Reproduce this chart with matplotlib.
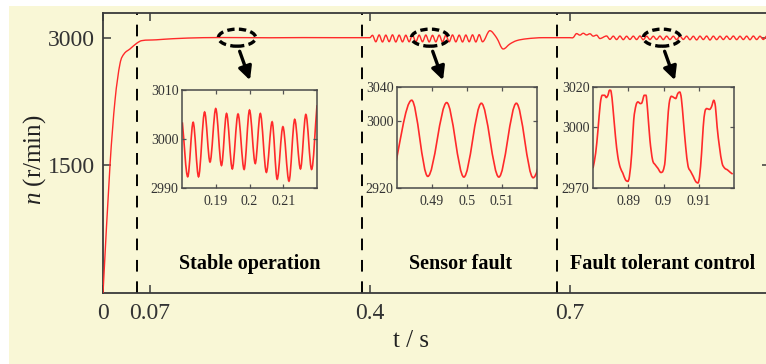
import numpy as np
import matplotlib
matplotlib.use('Agg')
import matplotlib.pyplot as plt
from matplotlib.path import Path
from matplotlib.patches import PathPatch, Ellipse, Rectangle

plt.rcParams['font.family'] = ['Liberation Serif', 'DejaVu Serif']
plt.rcParams['mathtext.fontset'] = 'custom'
plt.rcParams['mathtext.rm'] = 'Liberation Serif'
plt.rcParams['mathtext.it'] = 'Liberation Serif:italic'

# ---- data ----
# start-up and stable run
start_t = [0.0, 0.0105, 0.018, 0.0255, 0.0315, 0.0405, 0.0505, 0.058, 0.08, 0.105, 0.15]
start_v = [0, 1500, 2262, 2695, 2809, 2868, 2934, 2965, 2975, 2988, 3000]
stable_t = [0.2, 0.25, 0.3, 0.35, 0.4]
stable_v = [3001, 2999, 3001, 3000, 3000]

# sensor fault ripple (peaks / troughs)
fault_peak_t = [0.404, 0.414, 0.424, 0.434, 0.444, 0.454, 0.464, 0.474, 0.484,
                0.494, 0.504, 0.514, 0.524, 0.534, 0.544, 0.554, 0.564]
fault_peak_v = [3028, 3032, 3030, 3033, 3030, 3029, 3032, 3030, 3031,
                3028, 3030, 3029, 3032, 3030, 3031, 3033, 3035]
fault_trough_t = [0.409, 0.419, 0.429, 0.439, 0.449, 0.459, 0.469, 0.479, 0.489,
                  0.499, 0.509, 0.519, 0.529, 0.539, 0.549, 0.559, 0.569]
fault_trough_v = [2952, 2950, 2953, 2950, 2951, 2952, 2950, 2952, 2950,
                  2951, 2950, 2952, 2951, 2950, 2952, 2950, 2952]
# disturbance after the fault and recovery
bump_t = [0.580, 0.590, 0.600, 0.610, 0.620, 0.635, 0.660, 0.700, 0.705]
bump_v = [3082, 3000, 2867, 2926, 2965, 2987, 3000, 3000, 3002]

# fault tolerant control
ftc_start_t = [0.71, 0.715, 0.72, 0.725, 0.73, 0.735, 0.74, 0.745]
ftc_start_v = [3048, 3030, 3052, 3032, 3046, 3018, 3030, 2990]
ftc_peak_t = [0.755, 0.765, 0.775, 0.785, 0.795, 0.805, 0.815, 0.825, 0.835,
              0.845, 0.855, 0.865, 0.875, 0.885, 0.895, 0.905, 0.915, 0.925,
              0.935, 0.945, 0.955, 0.965, 0.975, 0.985, 0.995]
ftc_peak_v = [3020, 3018, 3019, 3017, 3018, 3020, 3018, 3017, 3019,
              3018, 3017, 3019, 3018, 3017, 3018, 3019, 3018, 3017,
              3018, 3019, 3017, 3018, 3019, 3017, 3018]
ftc_trough_t = [0.760, 0.770, 0.780, 0.790, 0.800, 0.810, 0.820, 0.830, 0.840,
                0.850, 0.860, 0.870, 0.880, 0.890, 0.900, 0.910, 0.920, 0.930,
                0.940, 0.950, 0.960, 0.970, 0.980, 0.990, 1.000]
ftc_trough_v = [2980, 2978, 2977, 2979, 2978, 2976, 2978, 2979, 2977,
                2978, 2977, 2979, 2976, 2974, 2978, 2973, 2977, 2978,
                2979, 2977, 2978, 2976, 2978, 2979, 2977]

# zoomed views
in1_t = [0.1801, 0.1817, 0.1833, 0.1849, 0.1867, 0.1883, 0.1900, 0.1917, 0.1932,
         0.1949, 0.1966, 0.1984, 0.2000, 0.2017, 0.2032, 0.2050, 0.2067, 0.2082,
         0.2099, 0.2117, 0.2134, 0.2151, 0.2167, 0.2184, 0.2200]
in1_v = [3003.4, 2992.3, 3003.4, 2992.3, 3005.5, 2995.3, 3006.2, 2994.6, 3005.2,
         2993.9, 3005.1, 2993.8, 3005.9, 2995.0, 3005.2, 2993.2, 3003.5, 2991.8,
         3002.5, 2991.4, 3004.0, 2993.9, 3005.0, 2993.8, 3006.9]
in2_t = [0.4788, 0.4842, 0.4888, 0.4942, 0.4991, 0.5041, 0.5091, 0.5141, 0.5189, 0.5239]
in2_v = [2933.0, 3024.3, 2933.8, 3021.5, 2933.0, 3020.7, 2933.0, 3020.7, 2932.2, 3021.0]
in3_t = [0.88000, 0.88075, 0.88141, 0.88207, 0.88263, 0.88329, 0.88376, 0.88423,
         0.88469, 0.88516, 0.88563, 0.88638, 0.88704, 0.88770, 0.88845, 0.88920,
         0.88986, 0.89033, 0.89099, 0.89155, 0.89221, 0.89277, 0.89343, 0.89390,
         0.89455, 0.89502, 0.89549, 0.89615, 0.89690, 0.89765, 0.89840, 0.89925,
         0.89991, 0.90047, 0.90113, 0.90160, 0.90225, 0.90291, 0.90347, 0.90404,
         0.90460, 0.90507, 0.90563, 0.90629, 0.90695, 0.90770, 0.90845, 0.90911,
         0.90977, 0.91023, 0.91080, 0.91127, 0.91174, 0.91230, 0.91305, 0.91362,
         0.91427, 0.91474, 0.91521, 0.91587, 0.91662, 0.91737, 0.91812, 0.91897,
         0.91962]
in3_v = [2979.8, 2987.2, 2998.7, 3011.8, 3015.9, 3015.9, 3014.8, 3015.9,
         3018.4, 3017.5, 3010.2, 2995.4, 2985.6, 2980.3, 2977.4, 2974.1,
         2973.3, 2975.7, 2987.2, 3003.6, 3011.0, 3012.6, 3011.8, 3012.3,
         3015.9, 3015.9, 3008.5, 2993.8, 2983.9, 2981.5, 2979.8, 2977.7,
         2978.7, 2983.9, 3002.0, 3011.8, 3015.4, 3014.8, 3014.3, 3016.7,
         3017.5, 3014.3, 3003.6, 2990.5, 2981.0, 2978.2, 2975.7, 2973.3,
         2972.5, 2975.7, 2987.2, 3000.3, 3007.7, 3009.3, 3008.9, 3010.2,
         3013.4, 3010.2, 3000.3, 2990.5, 2982.3, 2979.8, 2979.0, 2977.7,
         2976.9]

phase_lines = [0.051, 0.388, 0.68]
phase_names = ['Stable operation', 'Sensor fault', 'Fault tolerant control']
zoom_centres = [0.2009, 0.4903, 0.838]

bg = '#f9f7d6'
red = '#ff2a2a'
dark = '#3a3a3a'


def smooth_path(t, v):
    # cubic Hermite through the read points, flat at local extrema
    t = np.asarray(t, float)
    v = np.asarray(v, float)
    n = len(t)
    m = np.zeros(n)
    for i in range(n):
        if i == 0:
            m[i] = (v[1] - v[0]) / (t[1] - t[0])
        elif i == n - 1:
            m[i] = (v[-1] - v[-2]) / (t[-1] - t[-2])
        elif (v[i] - v[i - 1]) * (v[i + 1] - v[i]) <= 0:
            m[i] = 0.0
        else:
            m[i] = (v[i + 1] - v[i - 1]) / (t[i + 1] - t[i - 1])
    verts = [(t[0], v[0])]
    codes = [Path.MOVETO]
    for i in range(n - 1):
        h = (t[i + 1] - t[i]) / 3
        verts += [(t[i] + h, v[i] + m[i] * h), (t[i + 1] - h, v[i + 1] - m[i + 1] * h),
                  (t[i + 1], v[i + 1])]
        codes += [Path.CURVE4] * 3
    return Path(verts, codes)


main_t = start_t + stable_t
main_v = start_v + stable_v
pairs = sorted(zip(fault_peak_t + fault_trough_t, fault_peak_v + fault_trough_v))
main_t += [p[0] for p in pairs] + bump_t + ftc_start_t
main_v += [p[1] for p in pairs] + bump_v + ftc_start_v
pairs = sorted(zip(ftc_peak_t + ftc_trough_t, ftc_peak_v + ftc_trough_v))
main_t += [p[0] for p in pairs]
main_v += [p[1] for p in pairs]

W, H = 766, 364
fig = plt.figure(figsize=(W / 100, H / 100), dpi=100, facecolor='white')
fig.patches.append(Rectangle((9 / W, 0), 1, 1 - 6 / H, transform=fig.transFigure,
                             facecolor=bg, edgecolor='none', zorder=-10))

ax = fig.add_axes([103 / W, 71 / H, 667 / W, 280 / H])
ax.set_facecolor(bg)
ax.add_patch(PathPatch(smooth_path(main_t, main_v), fill=False, edgecolor=red, lw=1.0, zorder=3))
ax.set_xlim(0, 1.0)
ax.set_ylim(0, 3290)
ax.set_xticks([0, 0.07, 0.4, 0.7])
ax.set_xticklabels(['0', '0.07', '0.4', '0.7'])
ax.set_yticks([1500, 3000])
ax.tick_params(direction='in', top=True, right=True, length=6, width=1.1,
               labelsize=17, colors=dark, labelcolor='#333333')
ax.tick_params(axis='x', pad=7)
ax.tick_params(axis='y', pad=6)
for s in ax.spines.values():
    s.set_color(dark)
    s.set_linewidth(1.3)

ax.set_xlabel('t / s', fontsize=18, color='#222222')
ax.xaxis.label.set_va('center')
ax.xaxis.set_label_coords(0.462, -0.171)
ax.set_ylabel('$n$ (r/min)', fontsize=18, color='#222222')
ax.yaxis.label.set_va('center')
ax.yaxis.set_label_coords(-0.102, 0.477)

for x in phase_lines:
    ax.axvline(x, color='black', lw=1.4, ls=(0, (6, 5)), zorder=2)

for x, name in zip([0.22, 0.5355, 0.8385], phase_names):
    ax.text(x, 340, name, ha='center', va='center', fontsize=14.5,
            fontweight='bold', color='black')

for c in zoom_centres:
    ax.add_patch(Ellipse((c, 3000), 0.056, 200, fill=False, edgecolor='black',
                         lw=2.4, ls=(0, (2.2, 1.3)), zorder=4))
    ax.annotate('', xy=(c + 0.0195, 2500), xytext=(c + 0.004, 2840),
                arrowprops=dict(arrowstyle='-|>', lw=2.4, color='black',
                                mutation_scale=20, shrinkA=0, shrinkB=0))

insets = [
    ([182, 90, 317, 188], in1_t, in1_v, (0.18, 0.22), (2990, 3010),
     [0.19, 0.2, 0.21], ['0.19', '0.2', '0.21'], [2990, 3000, 3010]),
    ([397, 87, 537, 188], in2_t, in2_v, (0.48, 0.52), (2920, 3040),
     [0.49, 0.5, 0.51], ['0.49', '0.5', '0.51'], [2920, 3000, 3040]),
    ([593, 87, 734, 188], in3_t, in3_v, (0.88, 0.92), (2970, 3020),
     [0.89, 0.9, 0.91], ['0.89', '0.9', '0.91'], [2970, 3000, 3020]),
]
for box, t, v, xl, yl, xt, xtl, yt in insets:
    x0, y0, x1, y1 = box
    ia = fig.add_axes([x0 / W, (H - y1) / H, (x1 - x0) / W, (y1 - y0) / H])
    ia.set_facecolor(bg)
    ia.add_patch(PathPatch(smooth_path(t, v), fill=False, edgecolor=red, lw=1.2))
    ia.set_xlim(*xl)
    ia.set_ylim(*yl)
    ia.set_xticks(xt)
    ia.set_xticklabels(xtl)
    ia.set_yticks(yt)
    ia.tick_params(direction='in', top=True, right=True, length=3, width=0.9,
                   labelsize=10, colors='#555555', labelcolor='#333333')
    ia.tick_params(axis='x', pad=5)
    ia.tick_params(axis='y', pad=2.5)
    for s in ia.spines.values():
        s.set_color('#4a4a4a')
        s.set_linewidth(1.1)

fig.savefig('out.png', dpi=100, facecolor=fig.get_facecolor())
